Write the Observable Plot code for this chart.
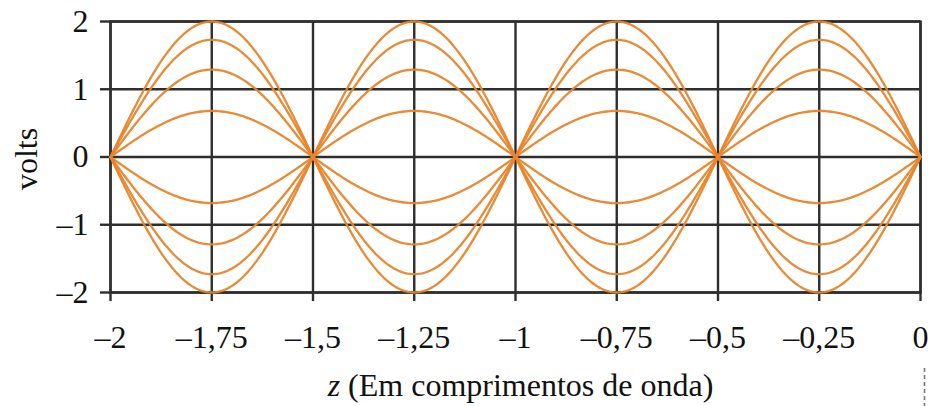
<!DOCTYPE html>
<html>
<head>
<meta charset="utf-8">
<script src="https://cdn.jsdelivr.net/npm/d3@7"></script>
<script src="https://cdn.jsdelivr.net/npm/@observablehq/plot@0.6"></script>
<style>
  html, body { margin: 0; padding: 0; background: #fff; }
  #chart svg { display: block; }
</style>
</head>
<body>
<div id="chart"></div>
<script>
// Position along the line, in wavelengths, and the axis labels (Portuguese decimal comma)
const zTicks = [-2, -1.75, -1.5, -1.25, -1, -0.75, -0.5, -0.25, 0];
const zTickLabels = ["–2", "–1,75", "–1,5", "–1,25", "–1", "–0,75", "–0,5", "–0,25", "0"];
const vTicks = [-2, -1, 0, 1, 2];
const vTickLabels = ["–2", "–1", "0", "1", "2"];

// Standing-wave snapshots: peak voltage of each instant (2·cos ωt for ωt = 0°, 30°, 50°, 70°)
const amplitudes = [2, 1.73, 1.29, 0.68, -0.68, -1.29, -1.73, -2];

// Dashed marker below the load end (z = 0), in volts along the y scale
const markerSpan = [-3.12, -3.7];

const xLabel = "z (Em comprimentos de onda)";
const yLabel = "volts";

// Each snapshot is V(z) = A·sin(2πz): nodes every half wavelength
const zSamples = d3.range(0, 401).map(i => -2 + i * 2 / 400);
const curves = amplitudes.flatMap((A, k) =>
  zSamples.map(z => ({ k, z, v: A * Math.sin(2 * Math.PI * z) }))
);

const gridColor = "#2e2e2e";
const waveColor = "#e8852b";
const serif = "'Liberation Serif', 'Times New Roman', serif";

const chart = Plot.plot({
  width: 928,
  height: 406,
  marginLeft: 110,
  marginRight: 8,
  marginTop: 21,
  marginBottom: 114,
  x: { domain: [-2, 0] },
  y: { domain: [-2, 2] },
  style: { fontFamily: serif, fontSize: "32px", color: "#111", background: "#fff" },
  marks: [
    Plot.gridX(zTicks, { stroke: gridColor, strokeOpacity: 1, strokeWidth: 2.4 }),
    Plot.gridY(vTicks, { stroke: gridColor, strokeOpacity: 1, strokeWidth: 2.4 }),
    Plot.frame({ stroke: gridColor, strokeWidth: 2.4 }),
    Plot.axisX(zTicks, {
      tickSize: 9, tickPadding: 24, stroke: gridColor, strokeWidth: 2.4,
      tickFormat: d => zTickLabels[zTicks.indexOf(d)], label: null, fontSize: 32
    }),
    Plot.axisY(vTicks, {
      tickSize: 10, tickPadding: 12, stroke: gridColor, strokeWidth: 2.4,
      tickFormat: d => vTickLabels[vTicks.indexOf(d)], label: null, fontSize: 32
    }),
    Plot.line(curves, { x: "z", y: "v", z: "k", stroke: waveColor, strokeWidth: 2.3, strokeOpacity: 0.95 }),
    Plot.ruleX([0], { y1: markerSpan[0], y2: markerSpan[1], stroke: "#777", strokeWidth: 1.6, strokeDasharray: "4,3", dx: 4 }),
    Plot.text([xLabel], { frameAnchor: "bottom", lineAnchor: "middle", textAnchor: "middle", dy: 93, dx: 5, text: d => d, fontSize: 32 }),
    Plot.text([yLabel], { frameAnchor: "left", textAnchor: "middle", lineAnchor: "middle", rotate: -90, dx: -84, dy: 2, text: d => d, fontSize: 32 })
  ]
});

// Italic variable name in the x-axis title
d3.select(chart).selectAll("text").each(function () {
  if (this.textContent === xLabel) {
    const t = d3.select(this);
    t.text(null);
    t.append("tspan").attr("font-style", "italic").text("z");
    t.append("tspan").text(xLabel.slice(1));
  }
});

document.getElementById("chart").appendChild(chart);
</script>
</body>
</html>
